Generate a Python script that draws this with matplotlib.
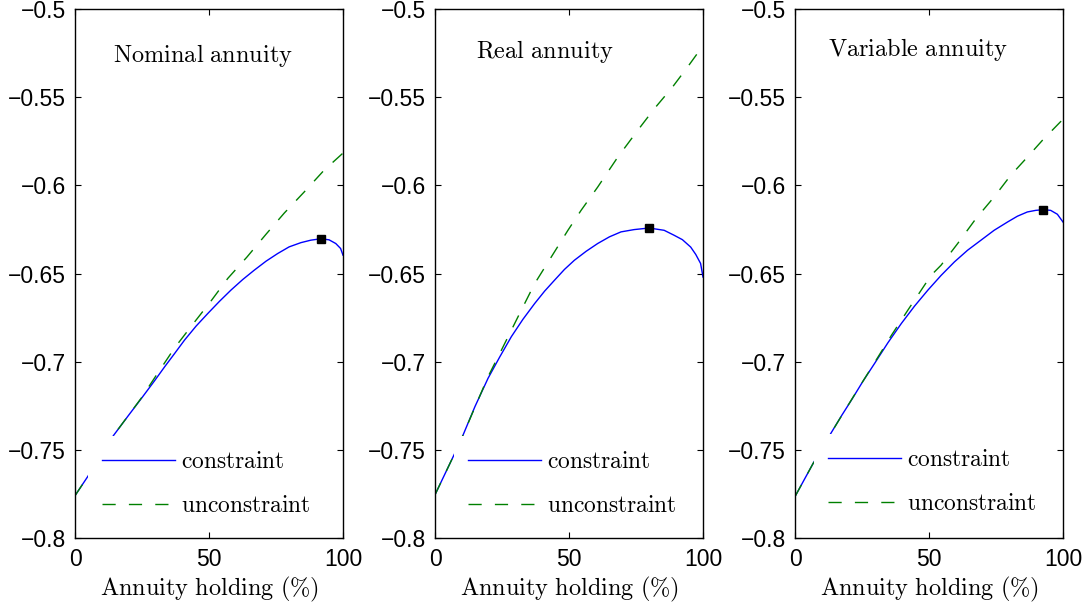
import matplotlib
matplotlib.use("Agg")
import matplotlib.pyplot as plt

plt.rcParams['font.family'] = ['Liberation Sans', 'DejaVu Sans']
plt.rcParams['mathtext.fontset'] = 'cm'

# ---------------- data ----------------
titles = ["Nominal annuity", "Real annuity", "Variable annuity"]
legend_labels = ["constraint", "unconstraint"]
yticks = [-0.5, -0.55, -0.6, -0.65, -0.7, -0.75, -0.8]
ytick_labels = ["\u22120.5", "\u22120.55", "\u22120.6", "\u22120.65", "\u22120.7", "\u22120.75", "\u22120.8"]
xticks = [0, 50, 100]
xlabel = "Annuity holding (%)"

# Nominal annuity
nom_con_x = [0, 4.6, 14.3, 19.8, 24.8, 29.7, 33.5, 37.2, 40.9, 45.2, 49.6, 53.9, 58.2, 62.6, 66.9, 71.3,
             75.6, 79.9, 84.3, 88.0, 91.7, 94.8, 97.3, 99.1, 100]
nom_con_y = [-0.776, -0.7655, -0.742, -0.7308, -0.7208, -0.7108, -0.7028, -0.6953, -0.6877, -0.6798,
             -0.6726, -0.6658, -0.6594, -0.6534, -0.6481, -0.643, -0.6387, -0.6349, -0.6325, -0.6311,
             -0.6303, -0.6309, -0.633, -0.6358, -0.6396]
nom_unc_x = [0, 4.6, 14.3, 24.8, 30.0, 37.2, 44.2, 50.8, 57.0, 64.2, 71.3, 78.1, 85.5, 92.9, 100]
nom_unc_y = [-0.776, -0.7655, -0.742, -0.7205, -0.7085, -0.6921, -0.6783, -0.6655, -0.6528, -0.6406,
             -0.6277, -0.6157, -0.6038, -0.5915, -0.5817]
nom_opt = (91.7, -0.6303)

# Real annuity
real_con_x = [0, 7.4, 10.5, 14.9, 19.8, 24.2, 28.5, 32.8, 37.2, 40.9, 44.6, 48.3, 52.0, 56.4, 60.7, 65.1,
              69.4, 74.3, 79.9, 85.5, 89.2, 92.3, 95.4, 97.3, 99.1, 100]
real_con_y = [-0.7755, -0.7519, -0.7415, -0.7255, -0.7094, -0.6972, -0.6858, -0.676, -0.667, -0.66,
              -0.6538, -0.6477, -0.6425, -0.6374, -0.633, -0.6292, -0.6264, -0.6251, -0.6242, -0.6255,
              -0.6283, -0.6308, -0.635, -0.6392, -0.6443, -0.652]
real_unc_x = [0, 7.4, 10.5, 15.0, 19.8, 24.8, 32.2, 37.2, 43.4, 49.6, 54.5, 60.7, 68.2, 75.6, 81.8, 88.6, 94.2, 100]
real_unc_y = [-0.7755, -0.7519, -0.7415, -0.7255, -0.7085, -0.6934, -0.6708, -0.6557, -0.6406, -0.6255,
              -0.6142, -0.601, -0.584, -0.5689, -0.5566, -0.5443, -0.533, -0.5208]
real_opt = (79.9, -0.6242)

# Variable annuity
var_con_x = [0, 6.8, 13.4, 17.3, 21.1, 25.4, 29.7, 34.7, 39.7, 44.6, 49.6, 54.5, 59.5, 64.4, 69.4, 74.3,
             79.3, 83.0, 86.7, 89.8, 92.7, 95.4, 97.9, 100]
var_con_y = [-0.7765, -0.7576, -0.7406, -0.7308, -0.7217, -0.711, -0.701, -0.6892, -0.6783, -0.6685,
             -0.6594, -0.6511, -0.6434, -0.6368, -0.6311, -0.6255, -0.6208, -0.6175, -0.6151, -0.6142,
             -0.6138, -0.6142, -0.6164, -0.6208]
var_unc_x = [0, 6.8, 13.4, 21.1, 29.7, 36.0, 42.1, 50.8, 54.5, 60.7, 67.5, 74.3, 80.5, 86.7, 92.3, 100]
var_unc_y = [-0.7765, -0.7576, -0.7406, -0.7215, -0.7005, -0.685, -0.6708, -0.651, -0.6453, -0.633,
             -0.6189, -0.6066, -0.5943, -0.584, -0.5745, -0.5625]
var_opt = (92.7, -0.6138)

panels = [
    (nom_con_x, nom_con_y, nom_unc_x, nom_unc_y, nom_opt),
    (real_con_x, real_con_y, real_unc_x, real_unc_y, real_opt),
    (var_con_x, var_con_y, var_unc_x, var_unc_y, var_opt),
]

# ---------------- layout ----------------
W, H = 1090, 608
fig = plt.figure(figsize=(W / 100, H / 100), dpi=100)
lefts = [75, 435, 795]
ax_w, top, bottom = 268, 9, 538
title_pos = [(0.142, 0.900), (0.153, 0.907), (0.124, 0.912)]
leg_pos = [(0.05, 0.193), (0.072, 0.193), (0.0724, 0.1966)]
FS = 16.5
SFS = 17.5
LFS = 16.9

for i, (cx, cy, ux, uy, opt) in enumerate(panels):
    ax = fig.add_axes([lefts[i] / W, 1 - bottom / H, ax_w / W, (bottom - top) / H])
    ax.plot(cx, cy, color='blue', lw=1.0, label=r'$\mathrm{%s}$' % legend_labels[0])
    ax.plot(ux, uy, color=(0, 0.5, 0), lw=1.0, dashes=(9.5, 9.5),
            label=r'$\mathrm{%s}$' % legend_labels[1])
    ax.plot([opt[0]], [opt[1]], 's', color='black', ms=6, zorder=4)
    ax.set_xlim(0, 100)
    ax.set_ylim(-0.8, -0.5)
    ax.set_xticks(xticks)
    ax.set_xticklabels([str(t) for t in xticks])
    ax.set_yticks(yticks)
    ax.set_yticklabels(ytick_labels)
    ax.tick_params(direction='in', top=True, right=True, length=4.5, width=0.8,
                   labelsize=FS, pad=6.5)
    ax.tick_params(axis='x', pad=7)
    for s in ax.spines.values():
        s.set_linewidth(1.0)
    ax.set_xlabel(r'$\mathrm{Annuity\ holding\ (\%)}$', fontsize=SFS, labelpad=3)
    ax.text(title_pos[i][0], title_pos[i][1], r'$\mathrm{%s}$' % titles[i].replace(' ', r'\ '),
            transform=ax.transAxes, fontsize=SFS, va='baseline', ha='left')
    leg = ax.legend(loc='upper left', bbox_to_anchor=leg_pos[i], borderaxespad=0,
                    fontsize=LFS, frameon=True, fancybox=False, framealpha=1,
                    edgecolor='white', facecolor='white', handlelength=3.1,
                    handletextpad=0.25, labelspacing=0.9, borderpad=0.6)
    leg.get_frame().set_linewidth(0)

fig.savefig("out.png", dpi=100)
